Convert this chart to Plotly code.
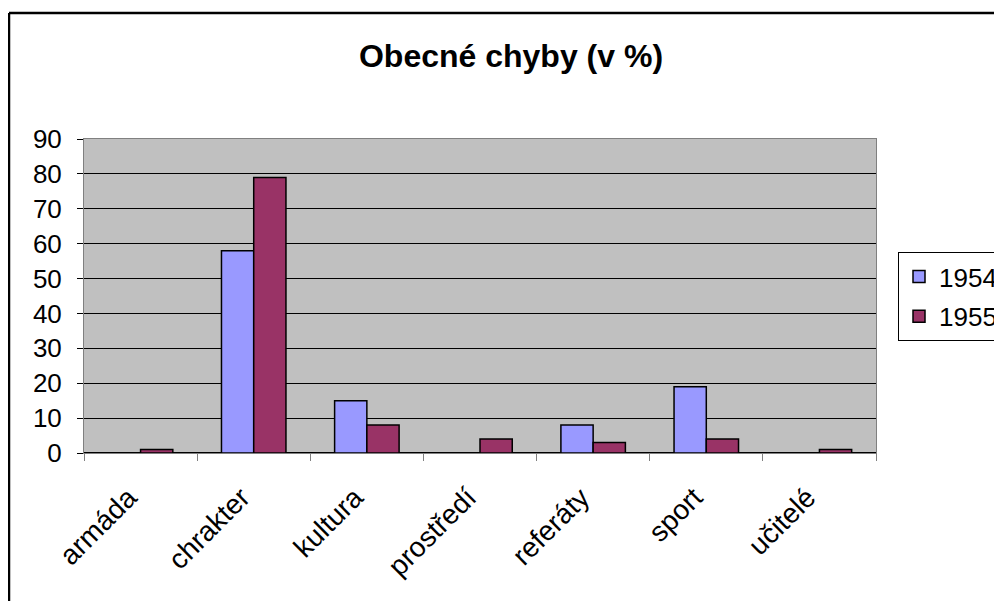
import plotly.graph_objects as go

categories = ["armáda", "chrakter", "kultura", "prostředí", "referáty", "sport", "učitelé"]
values_1954 = [0, 58, 15, 0, 8, 19, 0]
values_1955 = [1, 79, 8, 4, 3, 4, 1]
y_ticks = [0, 10, 20, 30, 40, 50, 60, 70, 80, 90]

FONT = "Liberation Sans, Arial, sans-serif"
OFF = 8  # page body margin offset

fig = go.Figure()
fig.add_trace(go.Bar(name="1954", x=categories, y=values_1954, legendgroup="a",
                     marker=dict(color="#9999FF", line=dict(color="black", width=1.5))))
fig.add_trace(go.Bar(name="1955", x=categories, y=values_1955, legendgroup="b",
                     marker=dict(color="#993366", line=dict(color="black", width=1.5))))

# target plot area in screenshot pixels
PX0, PX1, PY0, PY1 = 84, 876, 139, 453
L, T = PX0 - OFF, PY0 - OFF
pw, ph = PX1 - PX0, PY1 - PY0
R = 1002 - L - pw
B = 601 - T - ph

def px_x(x):
    return (x - PX0) / pw

def px_y(y):
    return 1 - (y - PY0) / ph

fig.update_layout(
    width=1002, height=601,
    margin=dict(l=L, r=R, t=T, b=B, autoexpand=False),
    paper_bgcolor="white", plot_bgcolor="#C0C0C0",
    font=dict(family=FONT, size=26, color="black"),
    barmode="group", bargap=0.43, bargroupgap=0,
    title=dict(text="<b>Obecné chyby (v %)</b>", x=px_x(511), xref="paper", xanchor="center",
               y=1 - (56 - OFF) / 601, yanchor="middle", font=dict(size=32, family=FONT)),
    legend=dict(x=px_x(898), y=px_y(252), xanchor="left", yanchor="top",
                bordercolor="black", borderwidth=1, bgcolor="white",
                font=dict(size=26, family=FONT), tracegroupgap=3,
                itemwidth=30),
    showlegend=True,
)
fig.update_xaxes(
    type="category", tickangle=-45, tickson="boundaries",
    ticks="outside", ticklen=7, tickcolor="#808080", tickwidth=1,
    ticklabelstandoff=16, ticklabelshift=-12,
    showline=True, linecolor="#808080", linewidth=1, mirror=True,
    showgrid=False, tickfont=dict(size=28, family=FONT),
)
fig.update_yaxes(
    range=[0, 90], tickvals=y_ticks, ticks="outside", ticklen=6, tickcolor="black",
    ticklabelstandoff=10,
    showline=True, linecolor="#808080", linewidth=1, mirror=True,
    showgrid=True, gridcolor="black", gridwidth=1,
    zeroline=True, zerolinecolor="black", zerolinewidth=1.5,
    tickfont=dict(size=26, family=FONT),
)

# outer chart border (partially visible)
fig.add_shape(type="line", xref="paper", yref="paper",
              x0=px_x(9), y0=px_y(13), x1=px_x(1020), y1=px_y(13),
              line=dict(color="black", width=2.5))
fig.add_shape(type="line", xref="paper", yref="paper",
              x0=px_x(9), y0=px_y(13), x1=px_x(9), y1=px_y(620),
              line=dict(color="black", width=2.5))

fig.write_html("out.html")
